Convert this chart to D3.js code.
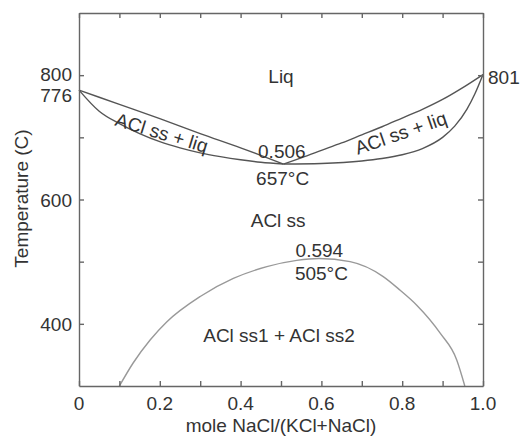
<!DOCTYPE html>
<html><head><meta charset="utf-8">
<script src="https://cdn.jsdelivr.net/npm/d3@7"></script>
<style>body{margin:0;background:#fff}svg{display:block}text{font-family:"Liberation Sans",Arial,sans-serif;fill:#333}</style>
</head><body><svg id="c" width="524" height="439"></svg>
<script>
const liquidusLeft = [[0,776],[0.1,753],[0.2,730],[0.3,706],[0.4,683],[0.45,671],[0.506,657]];
const solidusLeft = [[0,776],[0.05,742],[0.1,722],[0.15,706],[0.2,693],[0.25,683],[0.3,675],[0.35,669],[0.4,664],[0.45,660],[0.506,657]];
const liquidusRight = [[0.506,657],[0.55,667],[0.6,679],[0.65,691],[0.7,704],[0.75,717],[0.8,731],[0.85,745],[0.9,761],[0.95,780],[1,801]];
const solidusRight = [[0.506,657],[0.6,658],[0.7,662],[0.75,666],[0.8,672],[0.85,682],[0.9,700],[0.93,718],[0.96,745],[0.98,770],[1,801]];
const solvus = [[0.1,300],[0.134,337],[0.176,374],[0.217,403],[0.3,444],[0.382,473],[0.465,492],[0.539,502],[0.594,505],[0.671,500],[0.753,476],[0.795,454],[0.836,430],[0.894,385],[0.935,342],[0.955,300]];
const xTicks = [0,0.1,0.2,0.3,0.4,0.5,0.6,0.7,0.8,0.9,1.0];
const xLabels = [0,0.2,0.4,0.6,0.8,1.0];
const yTicks = [400,500,600,700,800];
const yLabels = [400,600,800];
const labels = [
  {t:"Liq", x:0.5, T:787, r:0},
  {t:"ACl ss + liq", x:0.2, T:697, r:17},
  {t:"ACl ss + liq", x:0.802, T:697, r:-19},
  {t:"0.506", x:0.502, T:667, r:0},
  {t:"657°C", x:0.504, T:623, r:0},
  {t:"ACl ss", x:0.493, T:556, r:0},
  {t:"0.594", x:0.595, T:508, r:0},
  {t:"505°C", x:0.6, T:470, r:0},
  {t:"ACl ss1 + ACl ss2", x:0.495, T:371, r:0}
];

const svg = d3.select("#c");
const x = d3.scaleLinear().domain([0,1]).range([79,483]);
const y = d3.scaleLinear().domain([300,900]).range([386,13]);
const fs = 19;

const line = d3.line().x(d=>x(d[0])).y(d=>y(d[1])).curve(d3.curveMonotoneX);
[[liquidusLeft,"#555"],[solidusLeft,"#555"],[liquidusRight,"#555"],[solidusRight,"#555"],[solvus,"#999"]].forEach(([d,c])=>{
  svg.append("path").attr("d",line(d)).attr("fill","none").attr("stroke",c).attr("stroke-width",1.4);
});

// axes (ticks inward)
const gB = svg.append("g").attr("transform",`translate(0,${y(300)})`)
  .call(d3.axisBottom(x).tickValues(xTicks).tickSizeInner(-5).tickSizeOuter(0).tickFormat(""));
const gT = svg.append("g").attr("transform",`translate(0,${y(900)})`)
  .call(d3.axisTop(x).tickValues(xTicks).tickSizeInner(-5).tickSizeOuter(0).tickFormat(""));
const gL = svg.append("g").attr("transform",`translate(${x(0)},0)`)
  .call(d3.axisLeft(y).tickValues(yTicks).tickSizeInner(-5).tickSizeOuter(0).tickFormat(""));
const gR = svg.append("g").attr("transform",`translate(${x(1)},0)`)
  .call(d3.axisRight(y).tickValues(yTicks).tickSizeInner(-5).tickSizeOuter(0).tickFormat(""));
[gB,gT,gL,gR].forEach(g=>{g.selectAll("path,line").attr("stroke","#666").attr("stroke-width",1.4);});

// tick labels
svg.selectAll(".xl").data(xLabels).enter().append("text")
  .attr("x",d=>x(d)).attr("y",410).attr("text-anchor","middle").attr("font-size",fs)
  .text(d=>d===0?"0":d.toFixed(1));
svg.selectAll(".yl").data(yLabels).enter().append("text")
  .attr("x",72).attr("y",d=>y(d)+(d===800?6:7)).attr("text-anchor","end").attr("font-size",fs).text(d=>d);
svg.append("text").attr("x",72).attr("y",y(776)+12).attr("text-anchor","end").attr("font-size",fs).text("776");
svg.append("text").attr("x",488).attr("y",y(801)+9).attr("text-anchor","start").attr("font-size",fs).text("801");

// axis titles
svg.append("text").attr("x",281).attr("y",432).attr("text-anchor","middle").attr("font-size",fs).text("mole NaCl/(KCl+NaCl)");
svg.append("text").attr("transform",`translate(28,${(y(300)+y(900))/2-1}) rotate(-90)`).attr("text-anchor","middle").attr("font-size",fs).text("Temperature (C)");

// region labels
labels.forEach(l=>{
  svg.append("text").attr("transform",`translate(${x(l.x)},${y(l.T)}) rotate(${l.r})`)
    .attr("text-anchor","middle").attr("font-size",fs).text(l.t);
});
</script></body></html>
